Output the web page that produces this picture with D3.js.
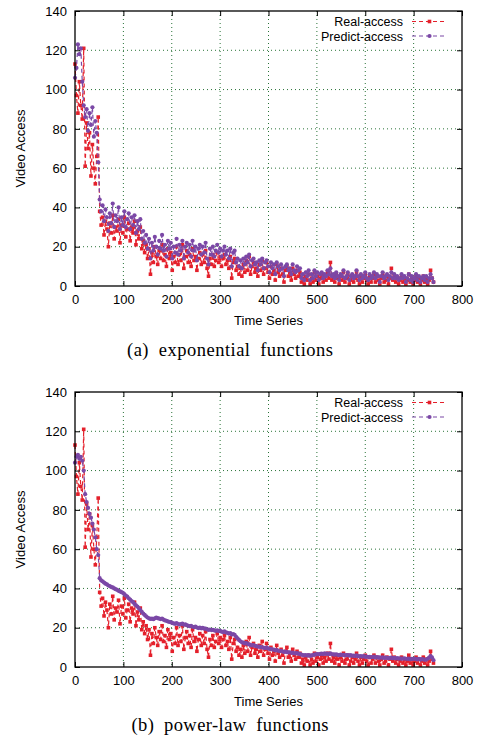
<!DOCTYPE html>
<html><head><meta charset="utf-8">
<script src="https://cdn.jsdelivr.net/npm/d3@7"></script>
<style>body{margin:0;background:#fff}svg{display:block}</style>
</head><body>
<svg id="c" width="482" height="744"></svg>
<script>
const xTicks = [0,100,200,300,400,500,600,700,800];
const yTicks = [0,20,40,60,80,100,120,140];
const seriesNames = ["Real-access","Predict-access"];
const captions = ["(a)\u2002exponential\u2002functions","(b)\u2002power-law\u2002functions"];
const xLabel = "Time Series";
const yLabel = "Video Access";
const timeStep = 3;

const realAccess = [113,97,88,104,92,85,121,61,83,70,78,56,72,60,52,66,86,38,31,35,
26,33,29,20,32,27,36,24,30,28,34,22,31,27,35,25,29,32,23,30,
27,33,21,28,24,30,19,23,17,21,14,19,6,17,12,20,15,11,18,14,
21,13,16,10,19,14,17,8,15,12,20,11,16,13,21,9,15,18,12,16,
10,19,13,15,8,14,17,11,16,12,18,9,5,14,11,16,10,13,17,12,
15,10,14,16,11,13,9,15,4,12,14,8,10,6,9,5,11,7,13,8,
15,6,10,12,7,9,5,11,8,13,6,9,12,7,4,10,6,8,3,11,
7,5,9,6,2,8,10,5,7,3,9,6,4,8,5,7,2,4,1,5,
3,6,1,4,2,7,3,5,1,4,6,2,5,3,7,4,12,3,5,2,
6,4,1,5,3,7,2,4,6,1,3,5,2,4,7,3,1,5,2,4,
6,3,1,5,2,4,6,2,5,3,1,4,6,2,3,5,1,4,9,3,
5,2,4,1,3,5,2,4,1,3,6,2,4,1,3,5,2,4,1,3,
5,2,4,1,3,8,4,2];

const predictExp = [106,111,123,118,121,104,92,86,90,79,88,82,91,76,84,78,63,44,38,41,
33,39,35,28,37,32,42,30,36,33,40,29,35,31,38,30,34,37,29,35,
31,36,27,33,29,34,24,28,22,26,19,24,14,22,18,25,20,16,23,19,
26,18,21,15,23,19,22,14,20,17,24,16,21,18,23,14,20,22,17,21,
15,23,18,20,13,19,21,16,20,17,22,14,11,19,16,20,15,18,21,17,
19,15,18,20,16,18,14,19,10,17,18,12,14,10,13,9,14,11,15,12,
16,10,13,14,11,12,8,13,11,14,9,12,13,10,7,12,9,11,6,12,
10,8,11,9,5,10,11,8,9,6,11,8,7,10,8,9,4,6,3,7,
5,8,3,6,4,8,5,7,3,6,7,4,6,5,8,6,9,5,6,4,
7,5,3,6,5,8,4,5,7,3,5,6,4,5,8,5,3,6,4,5,
7,4,3,6,4,5,7,4,6,5,2,5,7,4,5,6,3,5,7,4,
6,4,5,3,4,6,4,5,2,4,6,3,5,2,4,6,3,5,2,4,
5,3,5,2,4,6,4,2];

const predictPow = [104,107,108,106,107,105,100,88,84,81,78,76,73,70,66,60,57,45.2,44.1,43.6,
43.0,42.4,42.1,41.5,41.2,40.7,40.5,40.0,39.6,39.3,38.8,38.5,38.1,37.8,37.1,36.4,35.8,35.0,34.3,33.6,
33.0,32.1,31.4,30.8,29.9,29.0,28.1,27.2,26.5,25.8,25.2,24.8,24.5,24.6,24.3,24.8,25.1,24.9,24.6,24.4,
24.7,24.1,23.7,23.5,23.2,22.9,22.8,22.4,22.2,22.0,22.3,21.9,21.6,21.8,22.1,21.5,21.7,21.3,21.0,20.8,
20.9,20.5,20.3,20.6,20.1,19.8,20.0,19.7,19.9,19.5,19.6,19.2,18.9,19.1,18.8,18.9,18.6,18.4,18.7,18.3,
18.4,18.0,17.8,18.1,17.6,17.4,17.0,17.3,16.5,16.8,16.4,15.4,14.6,13.8,13.1,12.6,12.4,12.0,12.2,11.8,
11.5,11.2,11.0,11.1,10.8,10.6,10.3,10.4,10.1,10.0,9.8,9.7,9.9,9.5,9.2,9.1,8.9,8.8,8.5,8.6,
8.3,8.1,8.2,7.9,7.7,7.8,7.6,7.4,7.5,7.2,7.3,7.0,6.9,7.1,6.8,6.6,6.3,6.1,5.9,6.0,
5.8,6.0,5.7,5.9,6.1,6.3,6.4,6.6,6.5,6.7,6.8,6.6,6.9,6.7,6.8,6.6,6.9,6.5,6.4,6.3,
6.5,6.2,6.0,6.3,6.1,6.2,5.9,6.1,6.0,5.8,6.0,5.7,5.8,5.6,5.9,5.5,5.4,5.6,5.3,5.5,
5.2,5.3,5.1,5.2,5.0,5.1,5.3,4.9,5.0,4.8,4.9,4.7,4.9,4.6,4.8,4.7,4.5,4.6,4.8,4.5,
4.6,4.4,4.5,4.3,4.4,4.2,4.3,4.4,4.2,4.1,4.3,4.0,4.2,4.1,4.3,4.0,3.9,4.1,3.8,4.0,
3.9,3.7,3.8,4.2,4.8,5.6,4.9,3.5];

const colors = {real:"#e4202b", pred:"#7b48a6"};
const font = "'Liberation Sans', Arial, Helvetica, sans-serif";
const fs = 13;
const legendFs = 12.5;
const svg = d3.select("#c");

const panels = [
  {top:11, bottom:286, pred:predictExp, caption:captions[0], capY:356, capW:206},
  {top:392, bottom:667, pred:predictPow, caption:captions[1], capY:731, capW:197}
];

const X0 = 75, X1 = 462;

panels.forEach(p => {
  const x = d3.scaleLinear().domain([0,800]).range([X0,X1]);
  const y = d3.scaleLinear().domain([0,140]).range([p.bottom,p.top]);
  const g = svg.append("g");

  // grid
  g.append("g").selectAll("line").data(xTicks.slice(1,-1)).join("line")
    .attr("x1",d=>x(d)).attr("x2",d=>x(d)).attr("y1",p.top).attr("y2",p.bottom)
    .attr("stroke","#2a7338").attr("stroke-width",1).attr("stroke-dasharray","1,3");
  g.append("g").selectAll("line").data(yTicks.slice(1,-1)).join("line")
    .attr("y1",d=>y(d)).attr("y2",d=>y(d)).attr("x1",X0).attr("x2",X1)
    .attr("stroke","#2a7338").attr("stroke-width",1).attr("stroke-dasharray","1,3");

  // series
  const series = [
    {vals:realAccess, color:colors.real, shape:"sq"},
    {vals:p.pred, color:colors.pred, shape:"ci"}
  ];
  series.forEach(s => {
    const pts = s.vals.map((v,i)=>[i*timeStep, v]);
    const line = d3.line().x(d=>x(d[0])).y(d=>y(d[1]));
    g.append("path").datum(pts).attr("d",line).attr("fill","none")
      .attr("stroke",s.color).attr("stroke-width",1.2).attr("stroke-dasharray","4,3");
    if (s.shape==="sq") {
      g.append("g").selectAll("rect").data(pts).join("rect")
        .attr("x",d=>x(d[0])-1.8).attr("y",d=>y(d[1])-1.8)
        .attr("width",3.6).attr("height",3.6).attr("fill",s.color);
    } else {
      g.append("g").selectAll("circle").data(pts).join("circle")
        .attr("cx",d=>x(d[0])).attr("cy",d=>y(d[1])).attr("r",2.1).attr("fill",s.color);
    }
  });

  // axes
  const ax = (gen, tr) => {
    const a = g.append("g").attr("transform",tr).call(gen);
    a.select(".domain").remove();
    a.selectAll("line").attr("stroke","#000");
    a.selectAll("text").attr("font-family",font).attr("font-size",fs).attr("fill","#000");
    return a;
  };
  ax(d3.axisLeft(y).tickValues(yTicks).tickSize(-5).tickPadding(8), `translate(${X0},0)`);
  ax(d3.axisBottom(x).tickValues(xTicks).tickSize(-5).tickPadding(8.5), `translate(0,${p.bottom})`);
  ax(d3.axisRight(y).tickValues(yTicks).tickSize(-5).tickFormat(""), `translate(${X1},0)`);
  ax(d3.axisTop(x).tickValues(xTicks).tickSize(-5).tickFormat(""), `translate(0,${p.top})`);

  g.append("rect").attr("x",X0).attr("y",p.top).attr("width",X1-X0).attr("height",p.bottom-p.top)
    .attr("fill","none").attr("stroke","#000").attr("stroke-width",1.3);

  // labels
  g.append("text").attr("x",(X0+X1)/2).attr("y",p.bottom+39).attr("text-anchor","middle")
    .attr("font-family",font).attr("font-size",fs).text(xLabel);
  g.append("text").attr("transform",`translate(25,${(p.top+p.bottom)/2}) rotate(-90)`)
    .attr("text-anchor","middle").attr("font-family",font).attr("font-size",fs).text(yLabel);

  // legend
  series.forEach((s,k) => {
    const by = p.top + 15 + k*14.5;
    g.append("text").attr("x",403).attr("y",by).attr("text-anchor","end")
      .attr("font-family",font).attr("font-size",legendFs).text(seriesNames[k]);
    g.append("line").attr("x1",412).attr("x2",445).attr("y1",by-4.5).attr("y2",by-4.5)
      .attr("stroke",s.color).attr("stroke-width",1.2).attr("stroke-dasharray","4,3");
    if (s.shape==="sq") g.append("rect").attr("x",427.7).attr("y",by-6.3).attr("width",3.6).attr("height",3.6).attr("fill",s.color);
    else g.append("circle").attr("cx",429.5).attr("cy",by-4.5).attr("r",2.1).attr("fill",s.color);
  });

  // caption
  svg.append("text").attr("x",230).attr("y",p.capY).attr("text-anchor","middle")
    .attr("font-family","'Liberation Serif','Times New Roman',serif").attr("font-size",18.5)
    .attr("textLength",p.capW).attr("lengthAdjust","spacing")
    .text(p.caption);
});
</script>
</body></html>
